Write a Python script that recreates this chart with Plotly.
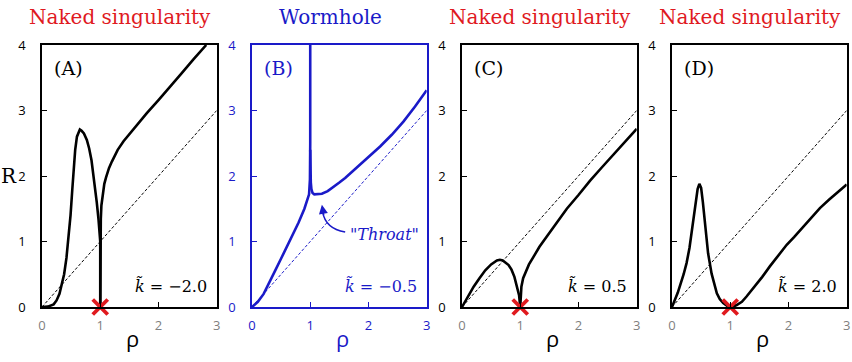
import plotly.graph_objects as go

# ---- data ----
diag_x = [0, 3]
diag_y = [0, 3]

# (A) k = -2.0
rho_a_left = [0, 0.1, 0.2, 0.25, 0.3, 0.34, 0.38, 0.42, 0.45, 0.49, 0.52, 0.55, 0.57, 0.6, 0.63, 0.65,
              0.68, 0.72, 0.77, 0.81, 0.85, 0.88, 0.91, 0.94, 0.97, 0.99, 1.0, 1.0]
R_a_left = [0, 0.005, 0.04, 0.1, 0.2, 0.33, 0.5, 0.75, 1.0, 1.4, 1.79, 2.15, 2.4, 2.6, 2.69, 2.71,
            2.69, 2.65, 2.55, 2.42, 2.24, 2.05, 1.84, 1.6, 1.34, 1.12, 1.0, 0]
rho_a_right = [1.0, 1.0, 1.005, 1.01, 1.02, 1.04, 1.07, 1.1, 1.15, 1.2, 1.3, 1.4, 1.6, 1.8, 2.0, 2.2, 2.4, 2.6, 2.82]
R_a_right = [0, 0.8, 1.15, 1.35, 1.55, 1.72, 1.88, 1.98, 2.12, 2.22, 2.4, 2.53, 2.75, 2.96, 3.16, 3.36, 3.57, 3.78, 4.0]

# (B) k = -0.5
rho_b_left = [0, 0.1, 0.2, 0.3, 0.4, 0.5, 0.6, 0.7, 0.8, 0.9, 0.95, 0.98, 0.995, 1.0, 1.0]
R_b_left = [0, 0.08, 0.2, 0.37, 0.56, 0.74, 0.92, 1.1, 1.29, 1.5, 1.62, 1.72, 1.95, 2.5, 4.3]
rho_b_right = [1.0, 1.003, 1.01, 1.02, 1.04, 1.07, 1.1, 1.15, 1.2, 1.3, 1.4, 1.5, 1.6, 1.7, 1.8, 1.9,
               2.0, 2.2, 2.4, 2.6, 2.8, 3.0]
R_b_right = [2.4, 2.05, 1.9, 1.8, 1.74, 1.72, 1.72, 1.72, 1.73, 1.77, 1.83, 1.9, 1.97, 2.05, 2.13, 2.21,
             2.29, 2.45, 2.63, 2.83, 3.06, 3.31]

# (C) k = 0.5
rho_c_left = [0, 0.1, 0.2, 0.3, 0.4, 0.5, 0.6, 0.65, 0.7, 0.8, 0.85, 0.9, 0.95, 0.98, 1.0]
R_c_left = [0, 0.16, 0.31, 0.44, 0.56, 0.65, 0.71, 0.72, 0.71, 0.64, 0.57, 0.46, 0.31, 0.18, 0]
rho_c_right = [1.0, 1.005, 1.02, 1.05, 1.08, 1.15, 1.23, 1.33, 1.45, 1.6, 1.8, 2.0, 2.2, 2.4, 2.6, 2.8, 3.0]
R_c_right = [0, 0.15, 0.31, 0.44, 0.51, 0.65, 0.77, 0.92, 1.07, 1.25, 1.5, 1.71, 1.93, 2.13, 2.33, 2.52, 2.72]

# (D) k = 2.0
rho_d_left = [0, 0.1, 0.2, 0.25, 0.3, 0.35, 0.4, 0.44, 0.47, 0.5, 0.53, 0.57, 0.62, 0.68, 0.73, 0.77,
              0.82, 0.88, 0.94, 1.0]
R_d_left = [0, 0.22, 0.5, 0.67, 0.9, 1.2, 1.55, 1.8, 1.88, 1.82, 1.6, 1.28, 0.82, 0.51, 0.33, 0.21,
            0.12, 0.06, 0.02, 0]
rho_d_right = [1.0, 1.05, 1.11, 1.2, 1.28, 1.36, 1.45, 1.55, 1.68, 1.8, 1.97, 2.1, 2.26, 2.4, 2.54, 2.7, 2.85, 3.0]
R_d_right = [0, 0.005, 0.03, 0.08, 0.16, 0.25, 0.34, 0.46, 0.62, 0.75, 0.95, 1.07, 1.23, 1.37, 1.51, 1.64, 1.76, 1.87]

singular_x = [1]
singular_y = [0]

titles = ["Naked singularity", "Wormhole", "Naked singularity", "Naked singularity"]
labels = ["(A)", "(B)", "(C)", "(D)"]
k_values = ["\u22122.0", "\u22120.5", "0.5", "2.0"]
x_ticks = [0, 1, 2, 3]
y_ticks = [0, 1, 2, 3, 4]

RED = "#e01a1f"
BLUE = "#1a1ac8"
W, H = 852, 362

panels = [
    (rho_a_left, R_a_left, rho_a_right, R_a_right, "black", True),
    (rho_b_left, R_b_left, rho_b_right, R_b_right, BLUE, False),
    (rho_c_left, R_c_left, rho_c_right, R_c_right, "black", True),
    (rho_d_left, R_d_left, rho_d_right, R_d_right, "black", True),
]
left_px = [42, 252, 462, 672]
plot_w = 174.7
top_px, bot_px = 45, 307

fig = go.Figure()
annotations = []
for i, (xl, yl, xr, yr, col, naked) in enumerate(panels):
    n = "" if i == 0 else str(i + 1)
    xa, ya = "x" + n, "y" + n
    fig.add_trace(go.Scatter(x=diag_x, y=diag_y, mode="lines", xaxis=xa, yaxis=ya,
                             line=dict(color=col, width=1, dash="3px,2px")))
    fig.add_trace(go.Scatter(x=xl, y=yl, mode="lines", xaxis=xa, yaxis=ya,
                             line=dict(color=col, width=2.6)))
    fig.add_trace(go.Scatter(x=xr, y=yr, mode="lines", xaxis=xa, yaxis=ya,
                             line=dict(color=col, width=2.6)))
    if naked:
        fig.add_trace(go.Scatter(x=singular_x, y=singular_y, mode="markers", xaxis=xa, yaxis=ya,
                                 cliponaxis=False,
                                 marker=dict(symbol="x-thin", size=15, line=dict(width=3.8, color=RED))))
    x0 = left_px[i] / W
    x1 = (left_px[i] + plot_w) / W
    tick_x_col = "#7f7f7f" if naked else BLUE
    tick_y_col = "black" if naked else BLUE
    fig.layout["xaxis" + n] = dict(
        domain=[x0, x1], range=[0, 3], anchor=ya, tickvals=x_ticks, ticks="inside", ticklen=5,
        tickcolor=col, showline=True, linecolor=col, linewidth=1.5, mirror=True, showgrid=False,
        zeroline=False, ticklabelstandoff=6, automargin=False,
        tickfont=dict(family="Open Sans", size=13, color=tick_x_col))
    fig.layout["yaxis" + n] = dict(
        domain=[(H - bot_px) / H, (H - top_px) / H], range=[0, 4], anchor=xa, tickvals=y_ticks,
        ticks="inside", ticklen=5, tickcolor=col, showline=True, linecolor=col, linewidth=1.5,
        mirror=True, showgrid=False, zeroline=False, ticklabelstandoff=12, automargin=False,
        tickfont=dict(family="Open Sans", size=13, color=tick_y_col))

    title_col = RED if naked else BLUE
    annotations.append(dict(text=titles[i], xref="paper", yref="paper", xanchor="center", yanchor="middle",
                            x=(left_px[i] + plot_w / 2 - 9) / W, y=(H - 17) / H,
                            showarrow=False, font=dict(family="DejaVu Serif", size=20, color=title_col)))
    # rho axis label
    annotations.append(dict(text="\u03c1", xref="paper", yref="paper", xanchor="center", yanchor="middle",
                            x=(left_px[i] + plot_w / 2 + 3) / W, y=(H - 338) / H,
                            showarrow=False, font=dict(family="Open Sans", size=22, color=col)))
    annotations.append(dict(text=labels[i], xref=xa, yref=ya, x=0.18, y=3.65, xanchor="left",
                            showarrow=False, font=dict(family="DejaVu Serif", size=19, color=col)))
    annotations.append(dict(text="<i>k\u0303</i> = " + k_values[i], xref=xa, yref=ya, x=2.87, y=0.32,
                            xanchor="right", showarrow=False,
                            font=dict(family="DejaVu Serif", size=16, color=col)))

# y label
annotations.append(dict(text="R", xref="paper", yref="paper", x=9 / W, y=(H - 176) / H,
                        xanchor="center", yanchor="middle",
                        showarrow=False, font=dict(family="DejaVu Serif", size=20, color="black")))

# "Throat" callout on panel B
annotations.append(dict(text="<i>\"Throat\"</i>", xref="x2", yref="y2", x=1.64, y=1.11, xanchor="left",
                        showarrow=False, font=dict(family="DejaVu Serif", size=16, color=BLUE)))
annotations.append(dict(text="", xref="x2", yref="y2", x=1.20, y=1.56, axref="x2", ayref="y2",
                        ax=1.235, ay=1.38, showarrow=True, arrowhead=2, arrowsize=1.2,
                        arrowwidth=1.5, arrowcolor=BLUE))
fig.add_shape(type="path", xref="x2", yref="y2", path="M 1.60,1.145 Q 1.26,1.20 1.215,1.45",
              line=dict(color=BLUE, width=1.5))

fig.update_layout(width=W, height=H, margin=dict(l=0, r=0, t=0, b=0, autoexpand=False),
                  showlegend=False, plot_bgcolor="white", paper_bgcolor="white", annotations=annotations)

# drop the default page margin so the figure sits at the window's corner
fig.write_html("out.html", config={"displayModeBar": False},
               post_script="document.body.style.margin='0px';")
